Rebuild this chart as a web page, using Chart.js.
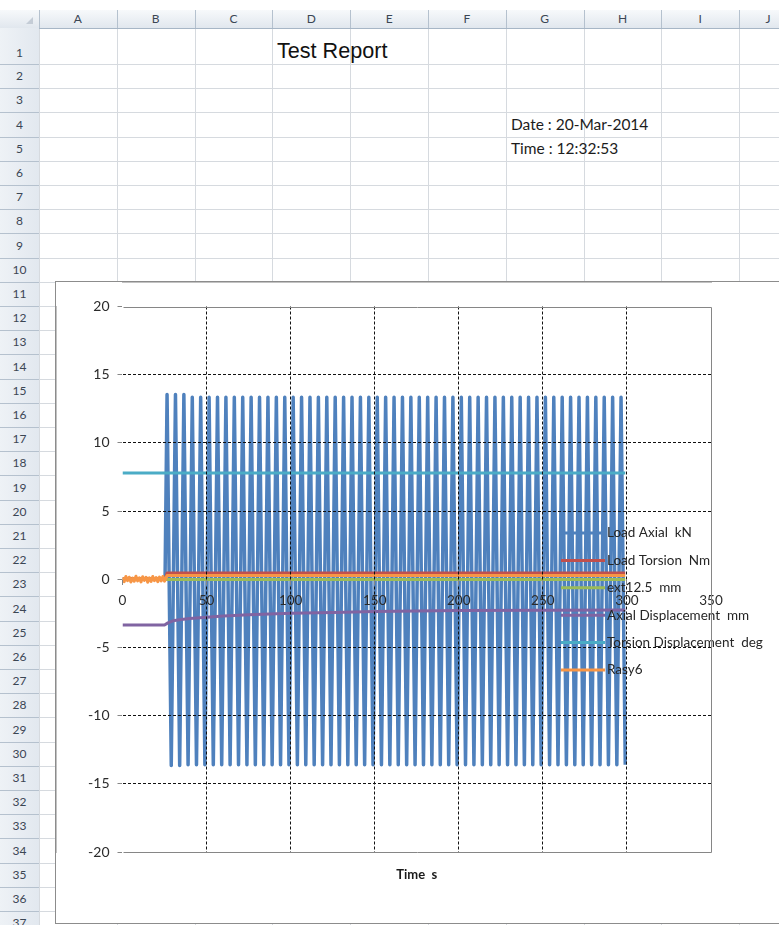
<!DOCTYPE html>
<html>
<head>
<meta charset="utf-8">
<title>Test Report</title>
<script src="https://cdn.jsdelivr.net/npm/chart.js@4.4.1/dist/chart.umd.min.js"></script>
<style>
  html, body { margin: 0; padding: 0; background: #fff; }
  body { width: 779px; height: 925px; position: relative; overflow: hidden; font-family: Lato, "Open Sans", sans-serif; }
  .abs { position: absolute; }
  .hline { position: absolute; height: 1px; }
  .vline { position: absolute; width: 1px; }
  .hdr { position: absolute; color: #3b4654; font-size: 12px; line-height: 14px; text-align: center; white-space: nowrap; }
  .cell { position: absolute; white-space: nowrap; color: #111; }
  #chartBox { position: absolute; left: 55px; top: 281px; width: 760px; height: 641px; border: 1px solid #8c8c8c; background: #fff; }
  #chart { position: absolute; left: 0; top: 0; }
</style>
</head>
<body>
<div id="sheet"></div>
<div class="cell" style="left:277px;top:40px;font-family:'Liberation Sans',Arial,sans-serif;font-size:21.6px;line-height:22px;">Test Report</div>
<div class="cell" style="left:511px;top:117px;font-size:15.5px;line-height:15px;color:#1c1c1c;">Date : 20-Mar-2014</div>
<div class="cell" style="left:511px;top:141px;font-size:15.5px;line-height:15px;color:#1c1c1c;">Time : 12:32:53</div>
<div id="chartBox"><canvas id="chart" width="723" height="641"></canvas></div>
<script>
// ---- worksheet frame ----
const columnLetters = ['A', 'B', 'C', 'D', 'E', 'F', 'G', 'H', 'I', 'J'];
const rowCount = 37;

const sheet = document.getElementById('sheet');
const headTop = 10, headBottom = 28, rowHeadW = 39, colW = 77.8, windowRight = 797;
const row1Bottom = 64, rowH = 24.2;
const rowTop = r => (r === 1 ? headBottom : row1Bottom + (r - 2) * rowH);
const rowBottom = r => (r === 1 ? row1Bottom : rowTop(r) + rowH);

function box(cls, style, text) {
  const d = document.createElement('div');
  d.className = cls;
  d.setAttribute('style', style);
  if (text !== undefined) d.textContent = text;
  sheet.appendChild(d);
  return d;
}

// header strips
box('abs', `left:0;top:${headTop}px;width:779px;height:${headBottom - headTop}px;background:linear-gradient(#f7f9fb,#e1e7ee);border-bottom:1px solid #a7b6c6;`);
box('abs', `left:0;top:${headBottom}px;width:${rowHeadW}px;height:${925 - headBottom}px;background:linear-gradient(to right,#eef2f6,#e2e8ef);border-right:1px solid #a7b6c6;`);
// corner mark
box('abs', `left:26px;top:17px;width:0;height:0;border-left:7px solid transparent;border-bottom:7px solid #c4ccd6;`);

// column boundaries and letters
for (let i = 0; i <= columnLetters.length; i++) {
  const x = Math.round(rowHeadW + i * colW);
  box('vline', `left:${x}px;top:${headTop}px;height:${headBottom - headTop}px;background:#b5c1ce;`);
  box('vline', `left:${x}px;top:${headBottom + 1}px;height:${925 - headBottom}px;background:#d6dadf;`);
}
columnLetters.forEach((c, i) => {
  const l = rowHeadW + i * colW;
  const r = Math.min(l + colW, windowRight);
  const cx = (l + r) / 2;
  box('hdr', `left:${cx - 10}px;width:20px;top:${headTop + 2}px;`, c);
});

// row boundaries and numbers
for (let r = 1; r <= rowCount; r++) {
  const y = Math.round(rowBottom(r));
  box('hline', `left:0;top:${y}px;width:${rowHeadW}px;background:#b5c1ce;`);
  box('hline', `left:${rowHeadW + 1}px;top:${y}px;width:${779 - rowHeadW}px;background:#d6dadf;`);
  const cy = r === 1 ? 53 : (rowTop(r) + rowBottom(r)) / 2;
  box('hdr', `left:0;width:${rowHeadW}px;top:${cy - 7}px;`, String(r));
}

// ---- chart data ----
const seriesNames = ['Load Axial  kN', 'Load Torsion  Nm', 'ext12.5  mm', 'Axial Displacement  mm', 'Torsion Displacement  deg', 'Rasy6'];
const seriesColors = ['#4F81BD', '#C0504D', '#9BBB59', '#8064A2', '#4BACC6', '#F79646'];

const xTicks = [0, 50, 100, 150, 200, 250, 300, 350];
const yTicks = [-20, -15, -10, -5, 0, 5, 10, 15, 20];

// Load Axial: cyclic loading, one peak and one trough per cycle
const cycleStart = 26.5;   // s, first peak
const cyclePeriod = 5;     // s
const axialPeaks = [
  13.55, 13.55, 13.55, 13.35, 13.35, 13.35, 13.35, 13.35, 13.35, 13.35,
  13.35, 13.35, 13.35, 13.35, 13.35, 13.35, 13.35, 13.35, 13.35, 13.35,
  13.35, 13.35, 13.35, 13.35, 13.35, 13.35, 13.35, 13.35, 13.35, 13.35,
  13.35, 13.35, 13.35, 13.35, 13.35, 13.35, 13.35, 13.35, 13.35, 13.35,
  13.35, 13.35, 13.35, 13.35, 13.35, 13.35, 13.35, 13.35, 13.35, 13.35,
  13.35, 13.35, 13.35, 13.35, 13.35
];
const axialTroughs = [
  -13.65, -13.65, -13.6, -13.6, -13.6, -13.6, -13.6, -13.6, -13.6, -13.6,
  -13.6, -13.6, -13.6, -13.6, -13.6, -13.6, -13.6, -13.6, -13.6, -13.6,
  -13.6, -13.6, -13.6, -13.6, -13.6, -13.6, -13.6, -13.6, -13.6, -13.6,
  -13.6, -13.6, -13.6, -13.6, -13.6, -13.6, -13.6, -13.6, -13.6, -13.6,
  -13.6, -13.6, -13.6, -13.6, -13.6, -13.6, -13.6, -13.6, -13.6, -13.6,
  -13.6, -13.6, -13.6, -13.6, -13.6
];
const axialPreTimes = [0, 25.3];
const axialPreValues = [0, 0];

const torsionTimes = [0, 25.5, 26.5, 299];
const torsionValues = [0.05, 0.05, 0.45, 0.45];

const extTimes = [0, 25.5, 26.5, 299];
const extValues = [0.0, 0.0, -0.02, -0.02];

const axialDispTimes = [0, 25, 27, 30, 35, 40, 50, 60, 75, 100, 125, 150, 175, 200, 250, 299];
const axialDispValues = [-3.35, -3.35, -3.2, -3.05, -2.95, -2.88, -2.78, -2.7, -2.6, -2.5, -2.43, -2.37, -2.33, -2.3, -2.27, -2.25];

const torsionDispTimes = [0, 299];
const torsionDispValues = [7.8, 7.8];

const rasyTimes = [0, 1, 2, 3, 4, 5, 6, 7, 8, 9, 10, 11, 12, 13, 14, 15, 16, 17, 18, 19, 20, 21, 22, 23, 24, 25, 26.5, 299];
const rasyValues = [0.12, -0.18, 0.2, -0.1, 0.15, -0.2, 0.08, -0.15, 0.22, -0.12, 0.1, -0.2, 0.18, -0.08, 0.14, -0.22, 0.1, -0.16, 0.2, -0.1, 0.12, -0.18, 0.16, -0.12, 0.2, -0.14, 0.28, 0.28];

// ---- build point lists ----
const pairs = (xs, ys) => xs.map((x, i) => ({ x, y: ys[i] }));
const axialPoints = pairs(axialPreTimes, axialPreValues);
axialPeaks.forEach((p, i) => {
  const t = cycleStart + i * cyclePeriod;
  axialPoints.push({ x: t, y: p });
  axialPoints.push({ x: t + cyclePeriod / 2, y: axialTroughs[i] });
});

const seriesPoints = [
  axialPoints,
  pairs(torsionTimes, torsionValues),
  pairs(extTimes, extValues),
  pairs(axialDispTimes, axialDispValues),
  pairs(torsionDispTimes, torsionDispValues),
  pairs(rasyTimes, rasyValues)
];
const seriesWidths = [3.5, 3, 3, 3, 3, 3];

const FONT = 'Lato';
const AXIS_GREY = '#868686';
const GRID_DARK = '#111';

// legend sits over the plotted lines on the right side of the plot
const sideLegend = {
  id: 'sideLegend',
  afterDatasetsDraw(chart) {
    const ctx = chart.ctx;
    const x0 = 505, x1 = 549, top = 251, step = 27.4;
    ctx.save();
    ctx.font = `13.5px ${FONT}`;
    ctx.textBaseline = 'middle';
    ctx.textAlign = 'left';
    chart.data.datasets.forEach((ds, i) => {
      const y = top + i * step;
      ctx.strokeStyle = ds.borderColor;
      ctx.lineWidth = 3;
      ctx.beginPath();
      ctx.moveTo(x0, y);
      ctx.lineTo(x1, y);
      ctx.stroke();
      ctx.fillStyle = '#262626';
      ctx.fillText(ds.label, x1 + 2, y);
    });
    ctx.restore();
  }
};

// plot area frame (top, right, bottom)
const plotFrame = {
  id: 'plotFrame',
  afterDraw(chart) {
    const { ctx, chartArea: a } = chart;
    const l = Math.round(a.left) + 0.5, r = Math.round(a.right) + 0.5;
    const t = Math.round(a.top) + 0.5, b = Math.round(a.bottom) + 0.5;
    ctx.save();
    ctx.strokeStyle = AXIS_GREY;
    ctx.lineWidth = 1;
    ctx.beginPath();
    ctx.moveTo(l, t); ctx.lineTo(r, t); ctx.lineTo(r, b); ctx.lineTo(l, b);
    ctx.stroke();
    ctx.restore();
  }
};

const datasets = seriesNames.map((name, i) => ({
  label: name,
  data: seriesPoints[i],
  borderColor: seriesColors[i],
  backgroundColor: seriesColors[i],
  borderWidth: seriesWidths[i],
  pointRadius: 0,
  tension: 0,
  fill: false,
  borderJoinStyle: 'round',
  order: seriesNames.length - i
}));

new Chart(document.getElementById('chart'), {
  type: 'line',
  data: { datasets },
  plugins: [sideLegend, plotFrame],
  options: {
    responsive: false,
    devicePixelRatio: 1,
    animation: false,
    parsing: false,
    normalized: true,
    events: [],
    layout: { padding: { left: 0, right: 68, top: 24.5, bottom: 40.4 } },
    plugins: {
      legend: { display: false },
      tooltip: { enabled: false },
      title: {
        display: true,
        position: 'bottom',
        fullSize: false,
        text: 'Time  s',
        color: '#1a1a1a',
        font: { family: FONT, size: 13, weight: 'bold' },
        padding: { top: 15, bottom: 0 }
      }
    },
    scales: {
      x: {
        type: 'linear',
        min: xTicks[0],
        max: xTicks[xTicks.length - 1],
        position: { y: 0 },
        afterBuildTicks: s => { s.ticks = xTicks.map(v => ({ value: v })); },
        ticks: { color: '#2b2b2b', font: { family: FONT, size: 13.5 }, padding: 8, maxRotation: 0, autoSkip: false, z: 1 },
        grid: {
          color: c => (c.tick && (c.tick.value === xTicks[0] || c.tick.value === xTicks[xTicks.length - 1]) ? 'rgba(0,0,0,0)' : GRID_DARK),
          lineWidth: 1,
          drawTicks: true,
          tickLength: 5,
          tickColor: AXIS_GREY,
          z: 1
        },
        border: { display: true, color: AXIS_GREY, width: 1, dash: [3, 2] }
      },
      y: {
        type: 'linear',
        min: yTicks[0],
        max: yTicks[yTicks.length - 1],
        position: 'left',
        afterBuildTicks: s => { s.ticks = yTicks.map(v => ({ value: v })); },
        afterFit: s => { s.width = 66.5; },
        ticks: { color: '#2b2b2b', font: { family: FONT, size: 14 }, padding: 8 },
        grid: {
          color: c => (c.tick && (c.tick.value === 0 || Math.abs(c.tick.value) === 20) ? 'rgba(0,0,0,0)' : GRID_DARK),
          lineWidth: 1,
          drawTicks: true,
          tickLength: 5,
          tickColor: AXIS_GREY,
          z: 1
        },
        border: { display: true, color: AXIS_GREY, width: 1, dash: [3, 2] }
      }
    }
  }
});
</script>
</body>
</html>
